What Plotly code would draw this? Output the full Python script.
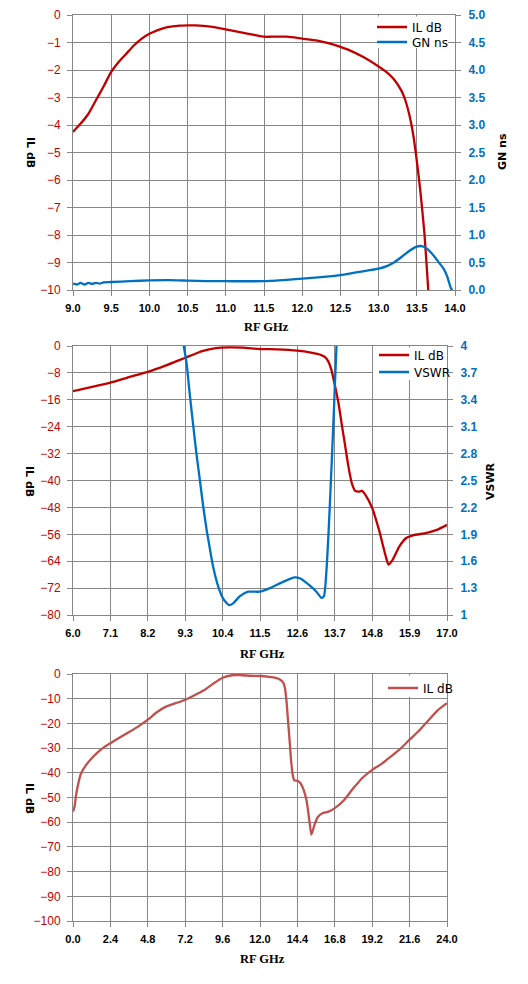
"""
plot.py

Three stacked filter response charts (IL dB with GN ns / VSWR) in Plotly.
"""

import plotly.graph_objects as go

# ---- top chart: IL dB and group delay (GN ns), 9-14 GHz
top_freq = [9.0, 9.1, 9.2, 9.3, 9.4, 9.5, 9.6, 9.7, 9.8, 9.9, 10.0, 10.2, 10.4, 10.5, 10.6,
            10.8, 11.0, 11.2, 11.4, 11.5, 11.6, 11.8, 12.0, 12.2, 12.4, 12.5, 12.6, 12.8,
            13.0, 13.1, 13.2, 13.3, 13.35, 13.4, 13.45, 13.5, 13.55, 13.6, 13.65, 13.7]
top_il = [-4.25, -3.95, -3.6, -3.1, -2.6, -2.07, -1.7, -1.4, -1.1, -0.86, -0.68, -0.47,
          -0.39, -0.38, -0.38, -0.42, -0.52, -0.63, -0.74, -0.79, -0.79, -0.79, -0.86,
          -0.93, -1.07, -1.16, -1.26, -1.53, -1.87, -2.07, -2.34, -2.76, -3.1, -3.6, -4.3,
          -5.3, -6.5, -7.95, -10.0, -12.0]
top_gn_freq = [9.0, 9.05, 9.1, 9.15, 9.2, 9.25, 9.3, 9.35, 9.4, 9.5, 9.75, 10.0, 10.25,
               10.5, 10.75, 11.0, 11.5, 11.75, 12.0, 12.25, 12.5, 12.75, 13.0, 13.1, 13.2,
               13.3, 13.4, 13.5, 13.55, 13.6, 13.7, 13.8, 13.85, 13.9, 13.95, 13.97]
top_gn = [0.115, 0.1, 0.13, 0.1, 0.13, 0.11, 0.13, 0.115, 0.14, 0.145, 0.16, 0.175, 0.18,
          0.17, 0.16, 0.16, 0.16, 0.18, 0.205, 0.235, 0.27, 0.33, 0.39, 0.43, 0.5, 0.6,
          0.71, 0.79, 0.8, 0.78, 0.66, 0.48, 0.39, 0.24, 0.02, 0.0]

# ---- middle chart: IL dB and VSWR, 6-17 GHz
mid_freq = [6.0, 6.5, 7.1, 7.6, 8.2, 8.7, 9.3, 9.8, 10.2, 10.6, 11.0, 11.5, 12.0, 12.6,
            13.0, 13.3, 13.4, 13.5, 13.6, 13.7, 13.8, 13.9, 14.0, 14.1, 14.2, 14.3, 14.4,
            14.5, 14.6, 14.8, 15.0, 15.2, 15.28, 15.4, 15.6, 15.8, 16.0, 16.4, 16.7, 17.0]
mid_il = [-13.4, -12.3, -10.9, -9.4, -7.7, -5.9, -3.5, -1.5, -0.6, -0.4, -0.5, -0.9, -1.0,
          -1.4, -2.0, -2.7, -3.2, -4.4, -7.1, -11.6, -16.5, -23.0, -29.4, -35.8, -40.8,
          -43.1, -43.3, -43.1, -44.3, -48.2, -54.7, -62.6, -65.0, -63.6, -59.6, -57.1,
          -56.3, -55.6, -54.7, -53.2]
mid_vswr_freq = [9.2, 9.26, 9.34, 9.44, 9.54, 9.63, 9.73, 9.83, 9.93, 10.03, 10.12, 10.27,
                 10.42, 10.59, 10.71, 10.91, 11.15, 11.49, 11.79, 12.18, 12.52, 12.67,
                 12.96, 13.16, 13.31, 13.38, 13.45, 13.52, 13.6, 13.67, 13.75, 13.8]
mid_vswr = [4.25, 4.0, 3.81, 3.44, 3.1, 2.8, 2.51, 2.21, 1.95, 1.73, 1.54, 1.32, 1.18, 1.11,
            1.13, 1.21, 1.26, 1.26, 1.3, 1.37, 1.42, 1.41, 1.33, 1.26, 1.19, 1.21, 1.47,
            1.95, 2.62, 3.25, 4.0, 4.3]

# ---- bottom chart: wideband IL dB, 0-24 GHz
bot_freq = [0.0, 0.1, 0.2, 0.3, 0.5, 0.8, 1.2, 1.6, 2.0, 2.4, 3.0, 3.6, 4.2, 4.8, 5.4, 6.0,
            6.6, 7.2, 7.8, 8.4, 9.0, 9.6, 10.2, 10.8, 11.4, 12.0, 12.6, 13.0, 13.3, 13.5,
            13.6, 13.7, 13.8, 13.9, 14.0, 14.1, 14.2, 14.4, 14.6, 14.8, 15.0, 15.2, 15.3,
            15.5, 15.7, 16.0, 16.4, 16.8, 17.4, 18.0, 18.6, 19.2, 19.8, 20.4, 21.0, 21.6,
            22.2, 22.8, 23.4, 24.0]
bot_il = [-55.7, -53.6, -48.9, -45.5, -40.5, -37.2, -34.1, -31.6, -29.6, -28.0, -25.7, -23.5,
          -21.2, -18.5, -15.4, -13.1, -11.8, -10.4, -8.6, -6.6, -3.9, -1.5, -0.5, -0.5, -0.7,
          -0.8, -1.2, -1.6, -2.3, -3.6, -5.7, -11.0, -19.0, -27.0, -35.4, -40.8, -43.1,
          -43.2, -44.2, -46.9, -51.6, -61.0, -65.0, -61.0, -58.0, -56.4, -55.7, -54.3,
          -51.0, -46.2, -41.9, -38.8, -36.4, -33.4, -30.3, -26.6, -23.0, -18.8, -14.7, -11.8]

# ---- tick labels
top_x_ticks = [9.0, 9.5, 10.0, 10.5, 11.0, 11.5, 12.0, 12.5, 13.0, 13.5, 14.0]
mid_x_ticks = [6.0, 7.1, 8.2, 9.3, 10.4, 11.5, 12.6, 13.7, 14.8, 15.9, 17.0]
bot_x_ticks = [0.0, 2.4, 4.8, 7.2, 9.6, 12.0, 14.4, 16.8, 19.2, 21.6, 24.0]
mid_vswr_ticks = [1, 1.3, 1.6, 1.9, 2.2, 2.5, 2.8, 3.1, 3.4, 3.7, 4]
mid_vswr_labels = ["1", "1.3", "1.6", "1.9", "2.2", "2.5", "2.8", "3.1", "3.4", "3.7", "4"]

RED = "#C00000"
BLUE = "#0070C0"
SOFT_RED = "#C0504D"
GRID = "#878787"

# the page body has an 8px margin, so the figure is 16px smaller than the window
PAGE_MARGIN = 8
W, H = 528 - 2 * PAGE_MARGIN, 984 - 2 * PAGE_MARGIN

sans = "Liberation Sans"


def px_x(value):
    """Window pixel column -> paper fraction."""
    return (value - PAGE_MARGIN) / W


def px_y(value):
    """Window pixel row (from top) -> paper fraction."""
    return 1 - (value - PAGE_MARGIN) / H


def x_axis_style(ticks, domain, anchor):
    return dict(
        domain=domain, anchor=anchor, range=[ticks[0], ticks[-1]],
        tickvals=ticks, tickformat=".1f", automargin=False,
        showgrid=True, gridcolor=GRID, gridwidth=1,
        showline=True, linecolor=GRID, mirror=True,
        ticks="outside", ticklen=5, tickcolor=GRID, ticklabelstandoff=3,
        tickfont=dict(family=sans, size=11, color="black", weight="bold"),
        zeroline=False,
    )


def left_axis_style(rng, dtick, domain, anchor):
    return dict(
        domain=domain, anchor=anchor, range=rng, dtick=dtick, tick0=0, automargin=False,
        showgrid=True, gridcolor=GRID, gridwidth=1,
        showline=True, linecolor=GRID, mirror=True,
        ticks="outside", ticklen=5, tickcolor=GRID, ticklabelstandoff=4,
        tickfont=dict(family=sans, size=12, color=RED),
        zeroline=False,
    )


def right_axis_style(rng, overlay, anchor, **extra):
    style = dict(
        overlaying=overlay, anchor=anchor, side="right", range=rng, automargin=False,
        showgrid=False, showline=True, linecolor=GRID,
        ticks="outside", ticklen=5, tickcolor=GRID, ticklabelstandoff=5,
        tickfont=dict(family=sans, size=12, color=BLUE, weight="bold"),
        zeroline=False,
    )
    style.update(extra)
    return style


top_dom_x = [px_x(73), px_x(455)]
top_dom_y = [px_y(290), px_y(15)]
mid_dom_x = [px_x(73), px_x(447)]
mid_dom_y = [px_y(615), px_y(346)]
bot_dom_x = [px_x(73), px_x(447)]
bot_dom_y = [px_y(921), px_y(674)]

line_kw = dict(mode="lines", line_shape="spline")

fig = go.Figure()
fig.add_trace(go.Scatter(x=top_freq, y=top_il, name="IL dB", xaxis="x", yaxis="y",
                         line=dict(color=RED, width=2.3, smoothing=0.6), legend="legend", **line_kw))
fig.add_trace(go.Scatter(x=top_gn_freq, y=top_gn, name="GN ns", xaxis="x", yaxis="y2",
                         line=dict(color=BLUE, width=2.3, smoothing=0.6), legend="legend2", **line_kw))
fig.add_trace(go.Scatter(x=mid_freq, y=mid_il, name="IL dB", xaxis="x2", yaxis="y3",
                         line=dict(color=RED, width=2.3, smoothing=0.6), legend="legend3", **line_kw))
fig.add_trace(go.Scatter(x=mid_vswr_freq, y=mid_vswr, name="VSWR", xaxis="x2", yaxis="y4",
                         line=dict(color=BLUE, width=2.3, smoothing=0.6), legend="legend4", **line_kw))
fig.add_trace(go.Scatter(x=bot_freq, y=bot_il, name="IL dB", xaxis="x3", yaxis="y5",
                         line=dict(color=SOFT_RED, width=2.3, smoothing=0.6), legend="legend5", **line_kw))

legend_common = dict(
    bgcolor="rgba(0,0,0,0)", borderwidth=0, xanchor="left", yanchor="middle",
    font=dict(family="DejaVu Sans", size=12, color="black"),
    itemwidth=30,
)

# white boxes behind the legends (they hide the gridlines, as in the original)
legend_boxes = [(378, 16.5, 448, 48), (373, 347.5, 443, 380), (385, 675.5, 444, 697)]
shapes = [
    dict(type="rect", xref="paper", yref="paper",
         x0=px_x(x0), x1=px_x(x1), y0=px_y(y1), y1=px_y(y0),
         fillcolor="white", line=dict(width=0), layer="above")
    for x0, y0, x1, y1 in legend_boxes
]

title_kw = dict(xref="paper", yref="paper", showarrow=False, xanchor="center", yanchor="middle")
annotations = []
for label, y_center in [("IL dB", 152), ("IL dB", 481), ("IL dB", 798)]:
    annotations.append(dict(text=f"<b>{label}</b>", x=px_x(30), y=px_y(y_center), textangle=90,
                            font=dict(family="DejaVu Sans", size=11, color="black"), **title_kw))
for label, x_center, y_center in [("GN ns", 503, 152), ("VSWR", 490, 481)]:
    annotations.append(dict(text=f"<b>{label}</b>", x=px_x(x_center), y=px_y(y_center), textangle=-90,
                            font=dict(family="DejaVu Sans", size=11, color="black"), **title_kw))
for x_center, y_center in [(266, 327), (262, 654), (262, 959)]:
    annotations.append(dict(text="<b>RF GHz</b>", x=px_x(x_center), y=px_y(y_center),
                            font=dict(family="Liberation Serif", size=12.5, color="black"), **title_kw))

fig.update_layout(
    width=W, height=H,
    margin=dict(l=0, r=0, t=0, b=0, autoexpand=False),
    paper_bgcolor="white", plot_bgcolor="white",
    showlegend=True,
    xaxis=x_axis_style(top_x_ticks, top_dom_x, "y"),
    yaxis=left_axis_style([-10, 0], 1, top_dom_y, "x"),
    yaxis2=right_axis_style([0, 5], "y", "x", dtick=0.5, tick0=0, tickformat=".1f"),
    xaxis2=x_axis_style(mid_x_ticks, mid_dom_x, "y3"),
    yaxis3=left_axis_style([-80, 0], 8, mid_dom_y, "x2"),
    yaxis4=right_axis_style([1, 4], "y3", "x2", tickvals=mid_vswr_ticks, ticktext=mid_vswr_labels),
    xaxis3=x_axis_style(bot_x_ticks, bot_dom_x, "y5"),
    yaxis5=left_axis_style([-100, 0], 10, bot_dom_y, "x3"),
    legend=dict(x=px_x(372), y=px_y(27), **legend_common),
    legend2=dict(x=px_x(372), y=px_y(42), **legend_common),
    legend3=dict(x=px_x(374), y=px_y(355), **legend_common),
    legend4=dict(x=px_x(374), y=px_y(372), **legend_common),
    legend5=dict(x=px_x(383), y=px_y(688), **legend_common),
    shapes=shapes,
    annotations=annotations,
)

fig.write_html("out.html")
